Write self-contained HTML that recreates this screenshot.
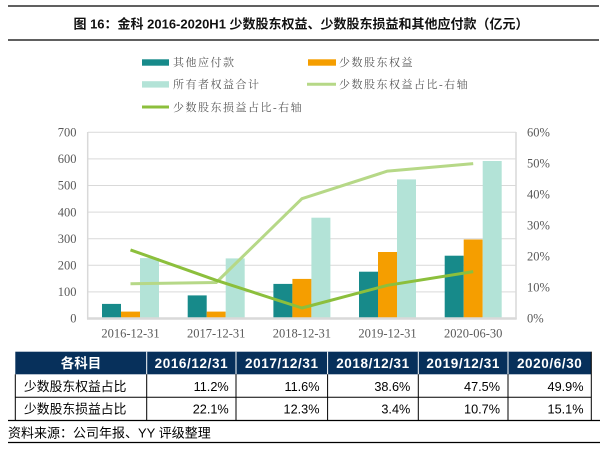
<!DOCTYPE html>
<html><head><meta charset="utf-8"><style>
html,body{margin:0;padding:0;background:#fff;width:609px;height:450px;overflow:hidden}
svg{display:block}
.t{font-family:"Liberation Sans","Noto Sans CJK SC",sans-serif}
.ax{font-family:"Liberation Serif","Noto Serif CJK SC",serif;font-size:12.5px;fill:#595959}
.lg{font-family:"Liberation Serif","Noto Serif CJK SC",serif;font-size:11px;fill:#595959;letter-spacing:1.5px}
</style></head><body>
<svg width="609" height="450" viewBox="0 0 609 450" xmlns="http://www.w3.org/2000/svg">
<!-- title rules -->
<line x1="8" y1="6" x2="599" y2="6" stroke="#000" stroke-width="1.3"/>
<line x1="8" y1="40" x2="599" y2="40" stroke="#000" stroke-width="1.3"/>
<text class="t" x="301" y="28.5" text-anchor="middle" font-size="13" font-weight="bold" fill="#111">图 16：金科 2016-2020H1 少数股东权益、少数股东损益和其他应付款（亿元）</text>

<!-- legend -->
<rect x="142" y="59.3" width="27" height="6.4" fill="#178a8a"/>
<text class="lg" x="173" y="66">其他应付款</text>
<rect x="308" y="59.3" width="28" height="6.4" fill="#f59e00"/>
<text class="lg" x="339" y="66">少数股东权益</text>
<rect x="142" y="81.2" width="27" height="6.4" fill="#b3e3d7"/>
<text class="lg" x="173" y="88">所有者权益合计</text>
<line x1="307" y1="84.3" x2="336" y2="84.3" stroke="#b6d887" stroke-width="3"/>
<text class="lg" x="339" y="88">少数股东权益占比-右轴</text>
<line x1="142" y1="107" x2="169" y2="107" stroke="#8cbf3c" stroke-width="3"/>
<text class="lg" x="173" y="111">少数股东损益占比-右轴</text>

<!-- gridlines -->
<g stroke="#d9d9d9" stroke-width="1">
<line x1="88" y1="132.3" x2="516" y2="132.3"/>
<line x1="88" y1="158.9" x2="516" y2="158.9"/>
<line x1="88" y1="185.5" x2="516" y2="185.5"/>
<line x1="88" y1="212.1" x2="516" y2="212.1"/>
<line x1="88" y1="238.7" x2="516" y2="238.7"/>
<line x1="88" y1="265.3" x2="516" y2="265.3"/>
<line x1="88" y1="291.9" x2="516" y2="291.9"/>
</g>
<line x1="87.7" y1="132" x2="87.7" y2="319" stroke="#d9d9d9" stroke-width="1.5"/>
<line x1="516" y1="132" x2="516" y2="319" stroke="#d9d9d9" stroke-width="1.5"/>

<!-- bars: centers 130.5, 216.2, 301.9, 387.5, 473.2 ; y0=318.5, 0.266px/unit -->
<g fill="#178a8a">
<rect x="102" y="303.9" width="19" height="14.6"/>
<rect x="187.7" y="295.4" width="19" height="23.1"/>
<rect x="273.4" y="283.9" width="19" height="34.6"/>
<rect x="359" y="271.7" width="19" height="46.8"/>
<rect x="444.7" y="255.7" width="19" height="62.8"/>
</g>
<g fill="#f59e00">
<rect x="121" y="311.6" width="19" height="6.9"/>
<rect x="206.7" y="311.6" width="19" height="6.9"/>
<rect x="292.4" y="278.9" width="19" height="39.6"/>
<rect x="378" y="252" width="19" height="66.5"/>
<rect x="463.7" y="239.5" width="19" height="79"/>
</g>
<g fill="#b3e3d7">
<rect x="140" y="258.1" width="19" height="60.4"/>
<rect x="225.7" y="258.4" width="19" height="60.1"/>
<rect x="311.4" y="217.7" width="19" height="100.8"/>
<rect x="397" y="179.4" width="19" height="139.1"/>
<rect x="482.7" y="161" width="19" height="157.5"/>
</g>
<line x1="87" y1="318.5" x2="516.7" y2="318.5" stroke="#d9d9d9" stroke-width="2.5"/>

<!-- lines -->
<polyline points="130.5,283.7 216.2,282.5 301.9,198.7 387.5,171.1 473.2,163.6" fill="none" stroke="#b6d887" stroke-width="3" stroke-linejoin="round"/>
<polyline points="130.5,249.9 216.2,280.3 301.9,308 387.5,285.3 473.2,271.6" fill="none" stroke="#8cbf3c" stroke-width="3" stroke-linejoin="round"/>

<!-- left axis labels -->
<g class="ax" text-anchor="end">
<text x="76.5" y="136.5">700</text>
<text x="76.5" y="163.1">600</text>
<text x="76.5" y="189.7">500</text>
<text x="76.5" y="216.3">400</text>
<text x="76.5" y="242.9">300</text>
<text x="76.5" y="269.5">200</text>
<text x="76.5" y="296.1">100</text>
<text x="76.5" y="322.7">0</text>
</g>
<!-- right axis labels -->
<g class="ax">
<text x="527" y="136.5">60%</text>
<text x="527" y="167.5">50%</text>
<text x="527" y="198.6">40%</text>
<text x="527" y="229.6">30%</text>
<text x="527" y="260.6">20%</text>
<text x="527" y="291.7">10%</text>
<text x="527" y="322.7">0%</text>
</g>
<!-- x labels -->
<g class="ax" text-anchor="middle">
<text x="130.5" y="337.5">2016-12-31</text>
<text x="216.2" y="337.5">2017-12-31</text>
<text x="301.9" y="337.5">2018-12-31</text>
<text x="387.5" y="337.5">2019-12-31</text>
<text x="473.2" y="337.5">2020-06-30</text>
</g>

<!-- table -->
<rect x="15.3" y="351.7" width="576" height="22.6" fill="#07305b"/>
<g stroke="#fff" stroke-width="1">
<line x1="146.7" y1="351.7" x2="146.7" y2="374.3"/>
<line x1="236" y1="351.7" x2="236" y2="374.3"/>
<line x1="327.6" y1="351.7" x2="327.6" y2="374.3"/>
<line x1="418.3" y1="351.7" x2="418.3" y2="374.3"/>
<line x1="508" y1="351.7" x2="508" y2="374.3"/>
</g>
<g stroke="#000" stroke-width="1">
<line x1="15.3" y1="374.3" x2="15.3" y2="420.3"/>
<line x1="146.7" y1="374.3" x2="146.7" y2="420.3"/>
<line x1="236" y1="374.3" x2="236" y2="420.3"/>
<line x1="327.6" y1="374.3" x2="327.6" y2="420.3"/>
<line x1="418.3" y1="374.3" x2="418.3" y2="420.3"/>
<line x1="508" y1="374.3" x2="508" y2="420.3"/>
<line x1="591.3" y1="351.7" x2="591.3" y2="420.3"/>
<line x1="15.3" y1="397.3" x2="591.3" y2="397.3"/>
</g>
<line x1="8" y1="420.5" x2="600" y2="420.5" stroke="#000" stroke-width="1.2"/>
<line x1="8" y1="442.5" x2="600" y2="442.5" stroke="#000" stroke-width="1.2"/>

<g class="t" font-size="13.5" font-weight="bold" fill="#fff" text-anchor="middle" letter-spacing="0.6">
<text x="81" y="368" letter-spacing="0">各科目</text>
<text x="191.4" y="368">2016/12/31</text>
<text x="281.8" y="368">2017/12/31</text>
<text x="373" y="368">2018/12/31</text>
<text x="463.2" y="368">2019/12/31</text>
<text x="549.7" y="368">2020/6/30</text>
</g>
<g class="t" font-size="12.8" fill="#000">
<text x="24" y="391.2">少数股东权益占比</text>
<text x="24" y="413.5">少数股东损益占比</text>
</g>
<g class="t" font-size="12.7" fill="#000" text-anchor="end">
<text x="228.7" y="391.2">11.2%</text>
<text x="319.5" y="391.2">11.6%</text>
<text x="410.3" y="391.2">38.6%</text>
<text x="500" y="391.2">47.5%</text>
<text x="583.5" y="391.2">49.9%</text>
<text x="228.7" y="413.5">22.1%</text>
<text x="319.5" y="413.5">12.3%</text>
<text x="410.3" y="413.5">3.4%</text>
<text x="500" y="413.5">10.7%</text>
<text x="583.5" y="413.5">15.1%</text>
</g>
<text class="t" x="8" y="437.5" font-size="13" fill="#000">资料来源：公司年报、YY 评级整理</text>
</svg>
</body></html>
